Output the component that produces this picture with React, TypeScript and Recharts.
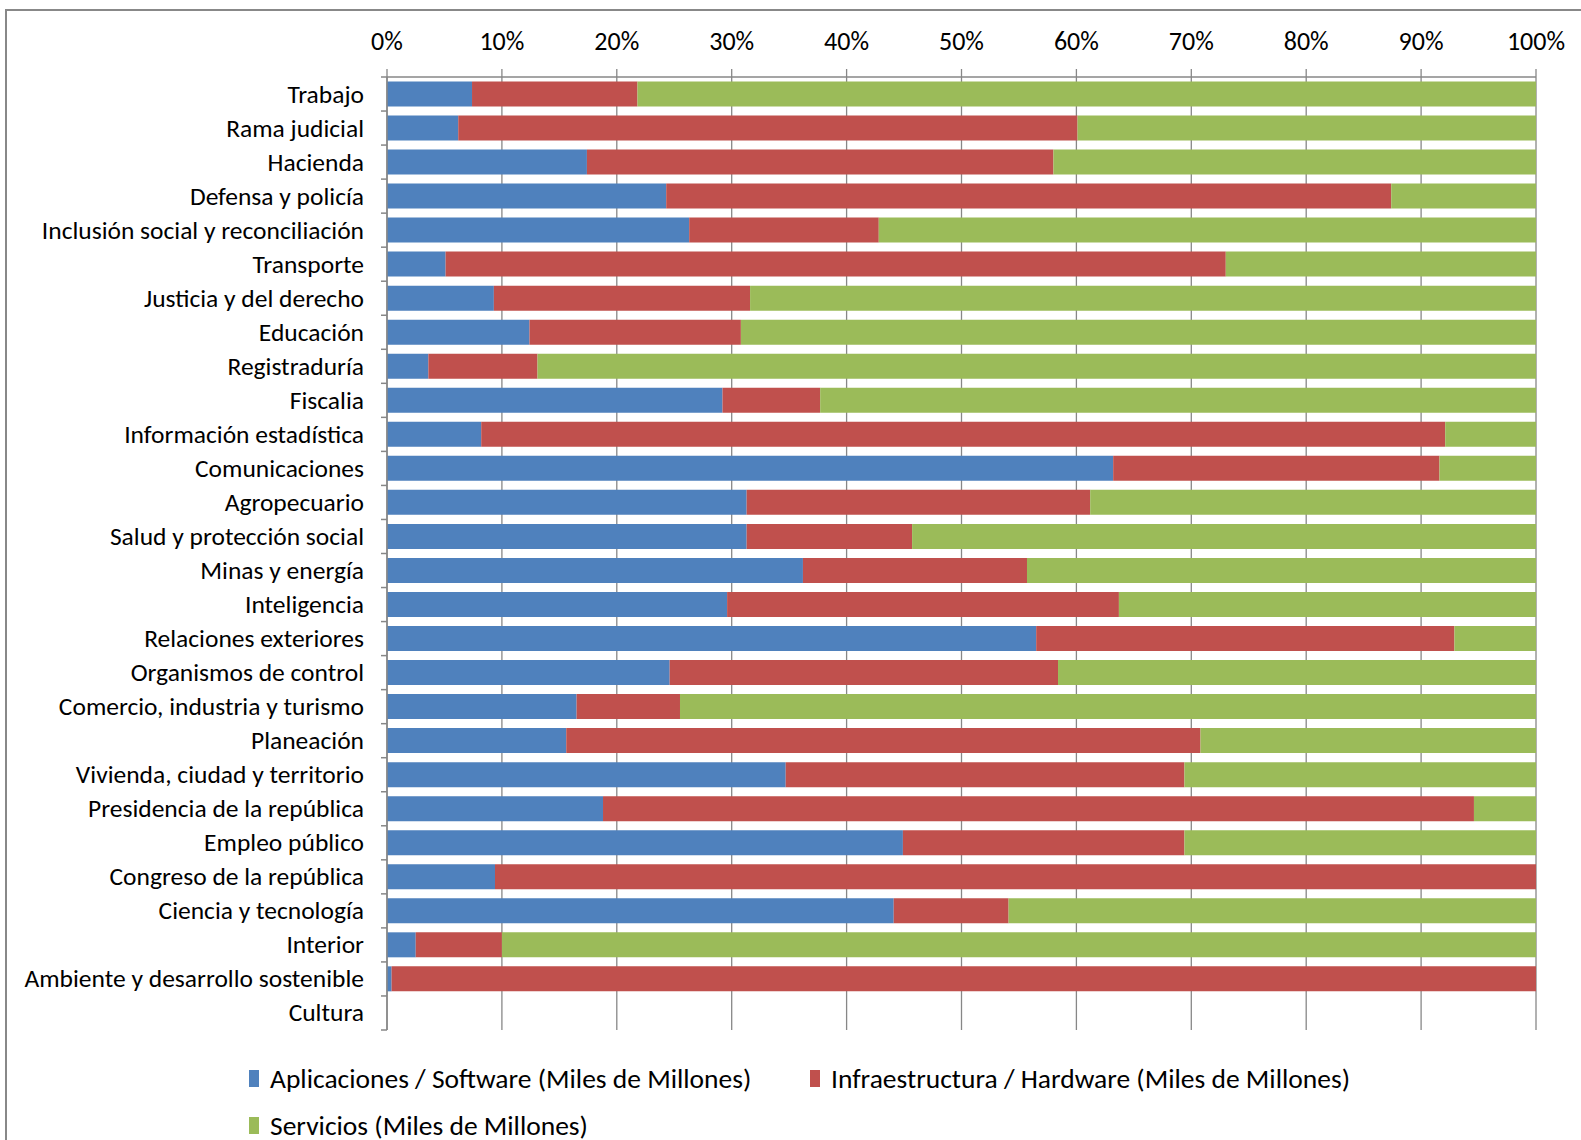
import React from 'react';
import { BarChart, Bar, XAxis, YAxis, CartesianGrid, Legend } from 'recharts';

const categories = [
    'Trabajo',
    'Rama judicial',
    'Hacienda',
    'Defensa y policía',
    'Inclusión social y reconciliación',
    'Transporte',
    'Justicia y del derecho',
    'Educación',
    'Registraduría',
    'Fiscalia',
    'Información estadística',
    'Comunicaciones',
    'Agropecuario',
    'Salud y protección social',
    'Minas y energía',
    'Inteligencia',
    'Relaciones exteriores',
    'Organismos de control',
    'Comercio, industria y turismo',
    'Planeación',
    'Vivienda, ciudad y territorio',
    'Presidencia de la república',
    'Empleo público',
    'Congreso de la república',
    'Ciencia y tecnología',
    'Interior',
    'Ambiente y desarrollo sostenible',
    'Cultura',
];

// shares in %
const software = [
    7.4, 6.2, 17.4, 24.3, 26.3, 5.1, 9.3, 12.4, 3.6, 29.2, 8.2, 63.2, 31.3, 31.3,
    36.2, 29.6, 56.5, 24.6, 16.5, 15.6, 34.7, 18.8, 44.9, 9.4, 44.1, 2.5, 0.4, 0,
];
const hardware = [
    14.4, 53.9, 40.6, 63.1, 16.5, 67.9, 22.3, 18.4, 9.5, 8.5, 83.9, 28.4, 29.9, 14.4,
    19.5, 34.1, 36.4, 33.8, 9.0, 55.2, 34.7, 75.8, 24.5, 90.6, 10.0, 7.5, 99.6, 0,
];
const servicios = [
    78.2, 39.9, 42.0, 12.6, 57.2, 27.0, 68.4, 69.2, 86.9, 62.3, 7.9, 8.4, 38.8, 54.3,
    44.3, 36.3, 7.1, 41.6, 74.5, 29.2, 30.6, 5.4, 30.6, 0, 45.9, 90.0, 0, 0,
];

const seriesNames = [
    'Aplicaciones / Software (Miles de Millones)',
    'Infraestructura / Hardware (Miles de Millones)',
    'Servicios (Miles de Millones)',
];

const xTicks = [0, 0.1, 0.2, 0.3, 0.4, 0.5, 0.6, 0.7, 0.8, 0.9, 1];

const data = categories.map((name, i) => ({
    name,
    software: software[i],
    hardware: hardware[i],
    servicios: servicios[i],
}));

const FONT = 'Carlito, Calibri, Lato, sans-serif';
const GRID = '#878787';
const X_AXIS_H = 30;
const PLOT_TOP = 77;
const PLOT_BOTTOM = 1030;
const AXIS_X = 387;
const STEP = (PLOT_BOTTOM - PLOT_TOP) / categories.length;

const CategoryTick = (props: any) => {
    const { x, y, payload, index } = props;
    return (
        <g>
            <text x={x} y={y} textAnchor="end" dominantBaseline="central" fontSize={25.5} fill="#000">
                {payload.value}
            </text>
            <line x1={AXIS_X - 6} x2={AXIS_X} y1={y - STEP / 2} y2={y - STEP / 2} stroke={GRID} strokeWidth={1.5} />
            {index === categories.length - 1 && (
                <line x1={AXIS_X - 6} x2={AXIS_X} y1={y + STEP / 2} y2={y + STEP / 2} stroke={GRID} strokeWidth={1.5} />
            )}
        </g>
    );
};

const renderLegend = (props: any) => {
    const { payload } = props;
    return (
        <div style={{ display: 'flex', flexWrap: 'wrap', paddingLeft: 249, width: 1332, rowGap: 17 }}>
            {(payload || []).map((entry: any) => (
                <div key={entry.value} style={{ width: 561, display: 'flex', alignItems: 'center', height: 30 }}>
                    <div style={{ width: 10, height: 17, background: entry.color, marginRight: 11 }} />
                    <span style={{ fontSize: 27.5, color: '#000', whiteSpace: 'nowrap' }}>{entry.value}</span>
                </div>
            ))}
        </div>
    );
};

export default function App() {
    return (
        <div
            style={{
                position: 'fixed',
                left: 0,
                top: 0,
                width: 1581,
                height: 1140,
                overflow: 'hidden',
                background: '#fff',
                fontFamily: FONT,
            }}
        >
            <div
                style={{
                    position: 'absolute',
                    left: 5,
                    top: 9,
                    width: 1640,
                    height: 1200,
                    border: '2px solid #888',
                }}
            />
            <div style={{ position: 'absolute', left: 0, top: 0 }}>
                <BarChart
                    width={1581}
                    height={1140}
                    data={data}
                    layout="vertical"
                    stackOffset="expand"
                    barCategoryGap="13%"
                    margin={{ top: PLOT_TOP - X_AXIS_H, right: 45, bottom: 1140 - PLOT_BOTTOM, left: 0 }}
                >
                    <CartesianGrid horizontal={false} stroke={GRID} strokeWidth={1.3} />
                    <XAxis
                        type="number"
                        orientation="top"
                        height={X_AXIS_H}
                        domain={[0, 1]}
                        ticks={xTicks}
                        tickFormatter={(v: number) => `${Math.round(v * 100)}%`}
                        tick={{ fontSize: 26, fill: '#000' }}
                        tickSize={8}
                        tickMargin={19}
                        stroke={GRID}
                        axisLine={{ stroke: GRID, strokeWidth: 1.5 }}
                        tickLine={{ stroke: GRID, strokeWidth: 1.3 }}
                    />
                    <YAxis
                        type="category"
                        dataKey="name"
                        width={AXIS_X}
                        tick={<CategoryTick />}
                        tickLine={false}
                        tickSize={0}
                        tickMargin={23}
                        interval={0}
                        axisLine={{ stroke: GRID, strokeWidth: 1.5 }}
                    />
                    <Legend
                        layout="horizontal"
                        verticalAlign="middle"
                        align="center"
                        content={renderLegend}
                        wrapperStyle={{ top: 1063, left: 0, width: 1581 }}
                    />
                    <Bar dataKey="software" name={seriesNames[0]} stackId="a" fill="#4F81BD" isAnimationActive={false} />
                    <Bar dataKey="hardware" name={seriesNames[1]} stackId="a" fill="#C0504D" isAnimationActive={false} />
                    <Bar dataKey="servicios" name={seriesNames[2]} stackId="a" fill="#9BBB59" isAnimationActive={false} />
                </BarChart>
            </div>
        </div>
    );
}
